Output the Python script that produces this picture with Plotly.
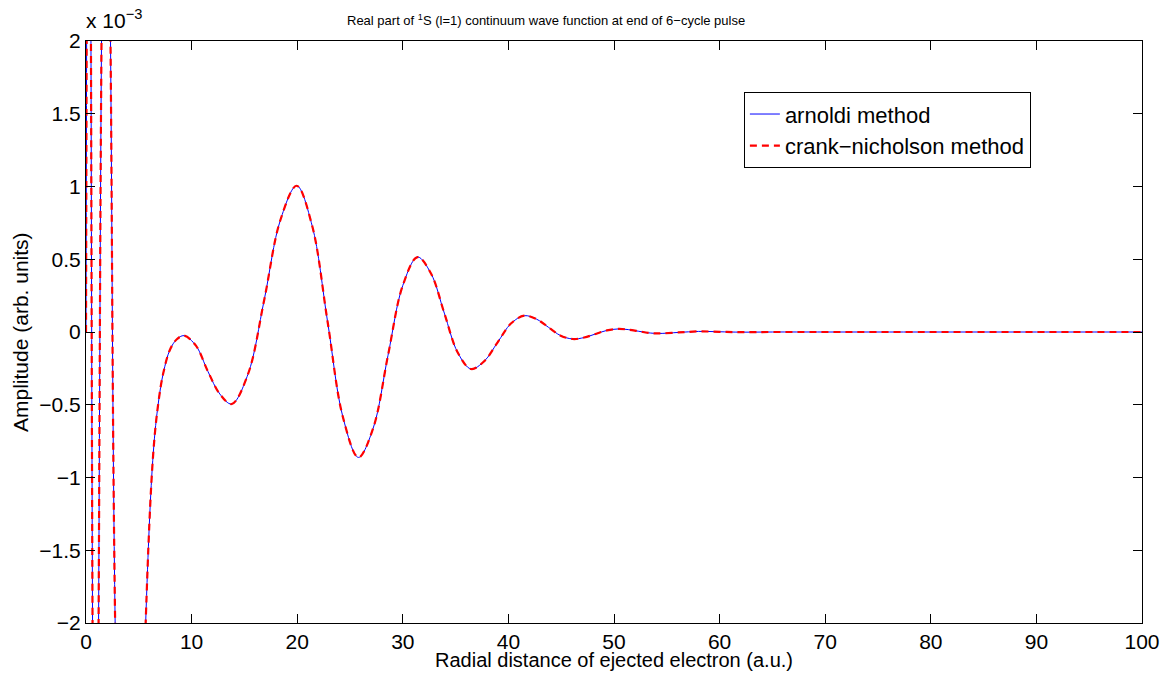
import plotly.graph_objects as go

# Radial distance (a.u.) and real part of the wave function (in units of 1e-3)
r = [0, 0.06, 0.25, 0.47, 0.62, 0.9, 1.19, 1.47, 1.9, 2.32, 2.76, 4.1, 5.65,
     6.37, 6.85, 7.32, 7.95, 8.6, 9.28, 10.41, 11.54, 12.67, 13.8, 15.34, 16.875, 18.41,
     19.95, 21.41, 22.875, 24.34, 25.8, 27.2, 28.6, 30.0, 31.4, 32.67, 33.93, 35.2,
     36.46, 37.72, 38.98, 40.24, 41.5, 42.65, 43.8, 44.95, 46.1, 47.18, 48.25, 49.33,
     50.4, 51.35, 52.3, 53.25, 54.2, 56.1, 58.0, 60.0, 62.0, 65, 70, 80, 90, 100]
arnoldi = [0, 2.0, 8.0, 2.0, -2.0, -6.0, -2.0, 2.0, 5.0, 2.0, -2.0, -7.0, -2.0,
           -0.832, -0.488, -0.282, -0.122, -0.05, -0.025, -0.094, -0.27, -0.426, -0.495, -0.29, 0.22, 0.77,
           1.005, 0.732, 0.072, -0.588, -0.862, -0.66, -0.16, 0.32, 0.515, 0.402, 0.13, -0.141,
           -0.254, -0.2, -0.071, 0.058, 0.112, 0.089, 0.032, -0.025, -0.048, -0.038, -0.0135, 0.011,
           0.021, 0.0165, 0.0055, -0.0055, -0.01, -0.003, 0.004, 0.0015, -0.001, 0.0, 0.0, 0.0, 0.0, 0.0]
crank_nicholson = list(arnoldi)

x_ticks = [0, 10, 20, 30, 40, 50, 60, 70, 80, 90, 100]
y_ticks = [-2, -1.5, -1, -0.5, 0, 0.5, 1, 1.5, 2]
y_tick_text = ["\u22122", "\u22121.5", "\u22121", "\u22120.5", "0", "0.5", "1", "1.5", "2"]

FONT = "Liberation Sans, Arial, sans-serif"

fig = go.Figure()
fig.add_trace(go.Scatter(x=r, y=arnoldi, mode="lines", name="arnoldi method",
                         line=dict(color="#0000ff", width=1, shape="spline", smoothing=1.0)))
fig.add_trace(go.Scatter(x=r, y=crank_nicholson, mode="lines", name="crank\u2212nicholson method",
                         line=dict(color="#ff0000", width=2.2, dash="7px,5px", shape="spline", smoothing=1.0)))

axis_common = dict(showgrid=False, zeroline=False, showline=True, linecolor="black", linewidth=1,
                   mirror="ticks", ticks="inside", ticklen=9, tickcolor="black", tickwidth=1,
                   automargin=False,
                   tickfont=dict(family=FONT, size=21, color="black"))

fig.update_xaxes(range=[0, 100], tickvals=x_ticks, ticktext=[str(v) for v in x_ticks], **axis_common)
fig.update_yaxes(range=[-2, 2], tickvals=y_ticks, ticktext=y_tick_text, **axis_common)

fig.update_layout(
    width=1163, height=673,
    margin=dict(l=86, r=21, t=41, b=50),
    plot_bgcolor="white", paper_bgcolor="white",
    font=dict(family=FONT, color="black"),
    showlegend=True,
    legend=dict(x=0.623, y=0.912, xanchor="left", yanchor="top",
                bgcolor="white", bordercolor="black", borderwidth=1,
                font=dict(family=FONT, size=22, color="black"),
                tracegroupgap=0, itemwidth=30),
    annotations=[
        dict(text="Real part of <sup>1</sup>S (l=1) continuum wave function at end of 6\u2212cycle pulse",
             xref="paper", yref="paper", x=0.4356, y=1, yshift=21, xanchor="center", yanchor="middle",
             showarrow=False, font=dict(family=FONT, size=13, color="black")),
        dict(text="x 10<sup>\u22123</sup>", xref="paper", yref="paper", x=0, y=1, xshift=-2, yshift=7,
             xanchor="left", yanchor="bottom", showarrow=False,
             font=dict(family=FONT, size=21, color="black")),
        dict(text="Radial distance of ejected electron (a.u.)", xref="paper", yref="paper",
             x=0.5, y=0, yshift=-37, xanchor="center", yanchor="middle", showarrow=False,
             font=dict(family=FONT, size=20, color="black")),
        dict(text="Amplitude (arb. units)", xref="paper", yref="paper", textangle=-90,
             x=0, y=0.5, xshift=-66, xanchor="center", yanchor="middle", showarrow=False,
             font=dict(family=FONT, size=21, color="black")),
    ],
)

fig.write_html(
    "out.html",
    config={"displayModeBar": False},
    post_script="document.body.style.margin='0';document.documentElement.style.overflow='hidden';",
)
